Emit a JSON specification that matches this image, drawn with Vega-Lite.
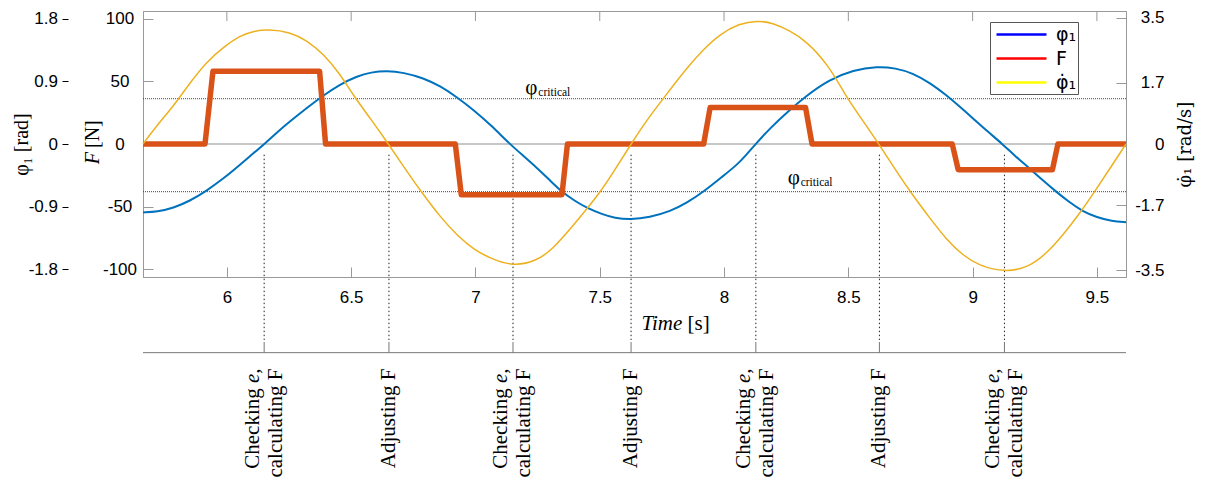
{
  "$schema": "https://vega.github.io/schema/vega-lite/v6.json",
  "width": 983,
  "height": 266,
  "autosize": "none",
  "padding": {"left": 143, "top": 11, "right": 80, "bottom": 208},
  "background": "white",
  "config": {
    "view": {"stroke": "#999", "strokeWidth": 1},
    "axis": {"grid": false, "labelFont": "Liberation Sans", "labelFontSize": 17, "labelColor": "#000", "titleFont": "Liberation Serif", "titleFontSize": 20, "titleFontWeight": "normal", "titleColor": "#000", "domainColor": "#999", "tickColor": "#999", "labelOverlap": false}
  },
  "data": {"values": [{}]},
  "datasets": {
    "blue": [
      {"t": 5.6626, "v": -0.981}, {"t": 5.72, "v": -0.972}, {"t": 5.785, "v": -0.918}, {"t": 5.85, "v": -0.819},
      {"t": 5.919, "v": -0.670}, {"t": 5.99, "v": -0.486}, {"t": 6.053, "v": -0.297}, {"t": 6.10, "v": -0.153},
      {"t": 6.151, "v": 0}, {"t": 6.20, "v": 0.162}, {"t": 6.254, "v": 0.324}, {"t": 6.32, "v": 0.513},
      {"t": 6.389, "v": 0.698}, {"t": 6.45, "v": 0.846}, {"t": 6.523, "v": 0.972}, {"t": 6.58, "v": 1.030},
      {"t": 6.644, "v": 1.051}, {"t": 6.71, "v": 1.026}, {"t": 6.791, "v": 0.947}, {"t": 6.86, "v": 0.828},
      {"t": 6.926, "v": 0.670}, {"t": 6.99, "v": 0.495}, {"t": 7.06, "v": 0.279}, {"t": 7.138, "v": 0},
      {"t": 7.19, "v": -0.162}, {"t": 7.248, "v": -0.344}, {"t": 7.30, "v": -0.522}, {"t": 7.342, "v": -0.670},
      {"t": 7.40, "v": -0.819}, {"t": 7.449, "v": -0.918}, {"t": 7.51, "v": -1.008}, {"t": 7.56, "v": -1.062},
      {"t": 7.624, "v": -1.085}, {"t": 7.70, "v": -1.053}, {"t": 7.785, "v": -0.965}, {"t": 7.85, "v": -0.846},
      {"t": 7.919, "v": -0.682}, {"t": 7.99, "v": -0.477}, {"t": 8.053, "v": -0.297}, {"t": 8.09, "v": -0.153},
      {"t": 8.127, "v": 0}, {"t": 8.187, "v": 0.234}, {"t": 8.26, "v": 0.477}, {"t": 8.328, "v": 0.684},
      {"t": 8.422, "v": 0.922}, {"t": 8.52, "v": 1.062}, {"t": 8.617, "v": 1.114}, {"t": 8.69, "v": 1.089},
      {"t": 8.758, "v": 1.019}, {"t": 8.83, "v": 0.873}, {"t": 8.892, "v": 0.707}, {"t": 8.95, "v": 0.531},
      {"t": 9.0, "v": 0.373}, {"t": 9.06, "v": 0.180}, {"t": 9.12, "v": 0}, {"t": 9.17, "v": -0.171},
      {"t": 9.227, "v": -0.344}, {"t": 9.28, "v": -0.513}, {"t": 9.335, "v": -0.682}, {"t": 9.39, "v": -0.837},
      {"t": 9.442, "v": -0.965}, {"t": 9.50, "v": -1.053}, {"t": 9.56, "v": -1.107}, {"t": 9.617, "v": -1.123}
    ],
    "yellow": [
      {"t": 5.6626, "w": 0}, {"t": 5.72, "w": 0.525}, {"t": 5.785, "w": 1.05}, {"t": 5.85, "w": 1.68},
      {"t": 5.919, "w": 2.28}, {"t": 5.99, "w": 2.70}, {"t": 6.053, "w": 3.00}, {"t": 6.11, "w": 3.13},
      {"t": 6.167, "w": 3.17}, {"t": 6.254, "w": 3.10}, {"t": 6.32, "w": 2.87}, {"t": 6.389, "w": 2.49},
      {"t": 6.456, "w": 1.93}, {"t": 6.507, "w": 1.36}, {"t": 6.58, "w": 0.68}, {"t": 6.65, "w": 0},
      {"t": 6.72, "w": -0.72}, {"t": 6.791, "w": -1.41}, {"t": 6.86, "w": -2.03}, {"t": 6.926, "w": -2.53},
      {"t": 6.999, "w": -2.95}, {"t": 7.06, "w": -3.16}, {"t": 7.151, "w": -3.39}, {"t": 7.248, "w": -3.23},
      {"t": 7.31, "w": -2.91}, {"t": 7.382, "w": -2.35}, {"t": 7.44, "w": -1.86}, {"t": 7.503, "w": -1.33},
      {"t": 7.565, "w": -0.67}, {"t": 7.626, "w": 0}, {"t": 7.69, "w": 0.67}, {"t": 7.758, "w": 1.28},
      {"t": 7.852, "w": 2.12}, {"t": 7.92, "w": 2.64}, {"t": 7.986, "w": 3.05}, {"t": 8.06, "w": 3.33},
      {"t": 8.134, "w": 3.42}, {"t": 8.2, "w": 3.34}, {"t": 8.262, "w": 3.14}, {"t": 8.328, "w": 2.87},
      {"t": 8.422, "w": 2.17}, {"t": 8.489, "w": 1.33}, {"t": 8.556, "w": 0.67}, {"t": 8.623, "w": 0},
      {"t": 8.69, "w": -0.72}, {"t": 8.758, "w": -1.41}, {"t": 8.83, "w": -2.07}, {"t": 8.892, "w": -2.62},
      {"t": 8.96, "w": -3.08}, {"t": 9.026, "w": -3.37}, {"t": 9.131, "w": -3.55}, {"t": 9.227, "w": -3.41},
      {"t": 9.30, "w": -3.01}, {"t": 9.362, "w": -2.53}, {"t": 9.43, "w": -1.93}, {"t": 9.489, "w": -1.34},
      {"t": 9.553, "w": -0.67}, {"t": 9.617, "w": 0}
    ],
    "red": [
      {"t": 5.6626, "F": 0}, {"t": 5.912, "F": 0}, {"t": 5.944, "F": 58}, {"t": 6.373, "F": 58},
      {"t": 6.397, "F": 0}, {"t": 6.919, "F": 0}, {"t": 6.943, "F": -40.5}, {"t": 7.348, "F": -40.5},
      {"t": 7.370, "F": 0}, {"t": 7.918, "F": 0}, {"t": 7.944, "F": 29}, {"t": 8.328, "F": 29},
      {"t": 8.354, "F": 0}, {"t": 8.918, "F": 0}, {"t": 8.942, "F": -20.5}, {"t": 9.321, "F": -20.5},
      {"t": 9.343, "F": 0}, {"t": 9.617, "F": 0}
    ],
    "events": [
      {"t": 6.150, "lab": "Checking e, calculating F", "two": true},
      {"t": 6.652, "lab": "Adjusting F", "two": false},
      {"t": 7.151, "lab": "Checking e, calculating F", "two": true},
      {"t": 7.626, "lab": "Adjusting F", "two": false},
      {"t": 8.128, "lab": "Checking e, calculating F", "two": true},
      {"t": 8.625, "lab": "Adjusting F", "two": false},
      {"t": 9.128, "lab": "Checking e, calculating F", "two": true}
    ],
    "xticks": [{"t": 6}, {"t": 6.5}, {"t": 7}, {"t": 7.5}, {"t": 8}, {"t": 8.5}, {"t": 9}, {"t": 9.5}],
    "crit": [{"t": 7.2008, "F": 40.2}, {"t": 8.2558, "F": -31.6}],
    "critlines": [{"F": 36.1}, {"F": -38.0}],
    "xtitle": [{"t": 7.8426, "F": -148.6}],
    "ytitle": [{"t": 5.4854, "F": -4.8}],
    "legend": [{"s": "φ₁"}, {"s": "F"}, {"s": "φ̇₁"}]
  },
  "encoding": {
    "x": {"field": "t", "type": "quantitative", "scale": {"domain": [5.6626, 9.617], "nice": false, "zero": false},
      "axis": {"orient": "bottom", "values": [6, 6.5, 7, 7.5, 8, 8.5, 9, 9.5], "labelExpr": "datum.value + ''", "tickSize": -10, "labelPadding": 22, "labelFlush": false, "title": null}}
  },
  "layer": [
    {
      "data": {"name": "xticks"},
      "mark": {"type": "rule", "color": "#999", "strokeWidth": 1},
      "encoding": {
        "y": {"datum": 106, "type": "quantitative", "scale": {"domain": [-106, 106], "nice": false, "zero": false}, "axis": null},
        "y2": {"datum": 98}
      }
    },
    {
      "mark": {"type": "rule", "color": "#b4b4b4", "strokeWidth": 1.5},
      "encoding": {"x": null, "y": {"datum": 0, "type": "quantitative", "scale": {"domain": [-106, 106], "nice": false, "zero": false}, "axis": null}}
    },
    {
      "data": {"name": "critlines"},
      "mark": {"type": "rule", "color": "#444", "strokeWidth": 1, "strokeDash": [1, 1]},
      "encoding": {"x": null, "y": {"field": "F", "type": "quantitative", "scale": {"domain": [-106, 106], "nice": false, "zero": false}, "axis": null}}
    },
    {
      "data": {"name": "events"},
      "mark": {"type": "rule", "color": "#222", "strokeWidth": 1, "strokeDash": [1.5, 2.5]},
      "encoding": {
        "y": {"datum": -8.5, "type": "quantitative", "scale": {"domain": [-106, 106], "nice": false, "zero": false}, "axis": null},
        "y2": {"datum": -156.2}
      }
    },
    {
      "data": {"name": "events"},
      "mark": {"type": "rule", "color": "#777", "strokeWidth": 1},
      "encoding": {
        "y": {"datum": -157.8, "type": "quantitative", "scale": {"domain": [-106, 106], "nice": false, "zero": false}, "axis": null},
        "y2": {"datum": -166.3}
      }
    },
    {
      "mark": {"type": "rule", "color": "#777", "strokeWidth": 1},
      "encoding": {"x": null, "y": {"datum": -166.3, "type": "quantitative", "scale": {"domain": [-106, 106], "nice": false, "zero": false}, "axis": null}}
    },
    {
      "data": {"name": "events"},
      "transform": [{"filter": "datum.two"}],
      "mark": {"type": "text", "text": "Checking", "font": "Liberation Serif", "fontSize": 21, "angle": 270, "align": "right", "baseline": "middle", "dy": -11.5, "dx": -19.8, "color": "#000"},
      "encoding": {
        "y": {"datum": -178.9, "type": "quantitative", "scale": {"domain": [-106, 106], "nice": false, "zero": false}, "axis": null}
      }
    },
    {
      "data": {"name": "events"},
      "transform": [{"filter": "datum.two"}],
      "mark": {"type": "text", "text": "e,", "font": "Liberation Serif", "fontStyle": "italic", "fontSize": 21, "angle": 270, "align": "right", "baseline": "middle", "dy": -11.5, "color": "#000"},
      "encoding": {
        "y": {"datum": -178.9, "type": "quantitative", "scale": {"domain": [-106, 106], "nice": false, "zero": false}, "axis": null}
      }
    },
    {
      "data": {"name": "events"},
      "transform": [{"filter": "datum.two"}],
      "mark": {"type": "text", "text": "calculating F", "font": "Liberation Serif", "fontSize": 21, "angle": 270, "align": "right", "baseline": "middle", "dy": 11.5, "color": "#000"},
      "encoding": {
        "y": {"datum": -178.9, "type": "quantitative", "scale": {"domain": [-106, 106], "nice": false, "zero": false}, "axis": null}
      }
    },
    {
      "data": {"name": "events"},
      "transform": [{"filter": "!datum.two"}],
      "mark": {"type": "text", "font": "Liberation Serif", "fontSize": 21, "angle": 270, "align": "right", "baseline": "middle", "color": "#000"},
      "encoding": {
        "y": {"datum": -178.9, "type": "quantitative", "scale": {"domain": [-106, 106], "nice": false, "zero": false}, "axis": null},
        "text": {"field": "lab"}
      }
    },
    {
      "data": {"name": "xtitle"},
      "mark": {"type": "text", "text": "Time", "font": "Liberation Serif", "fontStyle": "italic", "fontSize": 21, "align": "right", "baseline": "alphabetic", "dx": -2.6, "color": "#000"},
      "encoding": {
        "y": {"field": "F", "type": "quantitative", "scale": {"domain": [-106, 106], "nice": false, "zero": false}, "axis": null}
      }
    },
    {
      "data": {"name": "xtitle"},
      "mark": {"type": "text", "text": "[s]", "font": "Liberation Serif", "fontSize": 21, "align": "left", "baseline": "alphabetic", "dx": 2.6, "color": "#000"},
      "encoding": {
        "y": {"field": "F", "type": "quantitative", "scale": {"domain": [-106, 106], "nice": false, "zero": false}, "axis": null}
      }
    },
    {
      "data": {"name": "ytitle"},
      "mark": {"type": "text", "text": "F", "font": "Liberation Serif", "fontStyle": "italic", "fontSize": 20, "angle": 270, "align": "right", "baseline": "alphabetic", "dx": -2, "color": "#000"},
      "encoding": {
        "y": {"field": "F", "type": "quantitative", "scale": {"domain": [-106, 106], "nice": false, "zero": false}, "axis": null}
      }
    },
    {
      "data": {"name": "ytitle"},
      "mark": {"type": "text", "text": "[N]", "font": "Liberation Serif", "fontSize": 20, "angle": 270, "align": "left", "baseline": "alphabetic", "dx": 2, "color": "#000"},
      "encoding": {
        "y": {"field": "F", "type": "quantitative", "scale": {"domain": [-106, 106], "nice": false, "zero": false}, "axis": null}
      }
    },
    {
      "mark": {"type": "rule", "color": "#000", "strokeWidth": 1},
      "encoding": {
        "x": {"datum": 5.3364, "type": "quantitative"},
        "y": {"datum": -100, "type": "quantitative", "scale": {"domain": [-106, 106], "nice": false, "zero": false}, "axis": null},
        "y2": {"datum": 100}
      }
    },
    {
      "data": {"name": "crit"},
      "mark": {"type": "text", "text": "φ", "font": "Liberation Serif", "fontSize": 21, "align": "left", "baseline": "alphabetic", "color": "#000"},
      "encoding": {
        "y": {"field": "F", "type": "quantitative", "scale": {"domain": [-106, 106], "nice": false, "zero": false}, "axis": null}
      }
    },
    {
      "data": {"name": "crit"},
      "mark": {"type": "text", "text": "critical", "font": "Liberation Serif", "fontSize": 11.5, "align": "left", "baseline": "alphabetic", "dx": 13, "dy": 2.7, "color": "#000"},
      "encoding": {
        "y": {"field": "F", "type": "quantitative", "scale": {"domain": [-106, 106], "nice": false, "zero": false}, "axis": null}
      }
    },
    {
      "data": {"name": "blue"},
      "mark": {"type": "line", "color": "#0072BD", "strokeWidth": 2, "interpolate": "basis"},
      "encoding": {
        "y": {"field": "v", "type": "quantitative", "scale": {"domain": [-1.908, 1.908], "nice": false, "zero": false},
          "axis": {"orient": "left", "offset": 81, "values": [-1.8, -0.9, 0, 0.9, 1.8],
            "labelExpr": "datum.value == 0 ? '0' : (datum.value < 0 ? '-' : '') + format(abs(datum.value), '.1f')",
            "domain": false, "tickSize": -6, "tickColor": "#000", "labelPadding": 10.5, "labelAlign": "right",
            "title": "φ₁ [rad]", "titlePadding": -3}}
      }
    },
    {
      "data": {"name": "red"},
      "mark": {"type": "line", "color": "#D95319", "strokeWidth": 5.5, "strokeJoin": "round"},
      "encoding": {
        "y": {"field": "F", "type": "quantitative", "scale": {"domain": [-106, 106], "nice": false, "zero": false},
          "axis": {"orient": "left", "values": [-100, -50, 0, 50, 100], "labelExpr": "(datum.value < 0 ? '-' : '') + abs(datum.value)",
            "tickSize": -10, "labelAlign": "center", "labelPadding": 33.5, "title": null}}
      }
    },
    {
      "data": {"name": "yellow"},
      "mark": {"type": "line", "color": "#EDB120", "strokeWidth": 1.5, "interpolate": "basis"},
      "encoding": {
        "y": {"field": "w", "type": "quantitative", "scale": {"domain": [-3.68, 3.68], "nice": false, "zero": false},
          "axis": {"orient": "right", "values": [-3.5, -1.7, 0, 1.7, 3.5],
            "labelExpr": "datum.value == 0 ? '0' : (datum.value < 0 ? '-' : '') + format(abs(datum.value), '.1f')",
            "tickSize": -10, "labelAlign": "right", "labelPadding": 48,
            "title": "φ̇₁ [rad/s]", "titleFont": "DejaVu Serif", "titleFontSize": 18, "titleAngle": 270, "titleBaseline": "top", "titlePadding": 12}}
      }
    },
    {
      "data": {"name": "legend"},
      "mark": {"type": "line", "strokeWidth": 2},
      "encoding": {
        "x": {"datum": 7, "type": "quantitative"},
        "y": {"datum": 0, "type": "quantitative", "scale": {"domain": [-106, 106], "nice": false, "zero": false}, "axis": null},
        "color": {"field": "s", "type": "nominal",
          "scale": {"domain": ["φ₁", "F", "φ̇₁"], "range": ["#0000FF", "#FF0000", "#FFFF00"]},
          "legend": {"orient": "none", "legendX": 847, "legendY": 11, "title": null, "strokeColor": "#555", "fillColor": "#fff",
            "padding": 1, "symbolType": "M-0.6,0H4.4", "symbolSize": 400, "symbolStrokeWidth": 2.5,
            "labelFont": "DejaVu Sans", "labelFontSize": 19, "labelColor": "#000", "labelOffset": 42, "rowPadding": 2}}
      }
    }
  ],
  "resolve": {"scale": {"y": "independent", "color": "independent"}, "axis": {"y": "independent"}}
}
